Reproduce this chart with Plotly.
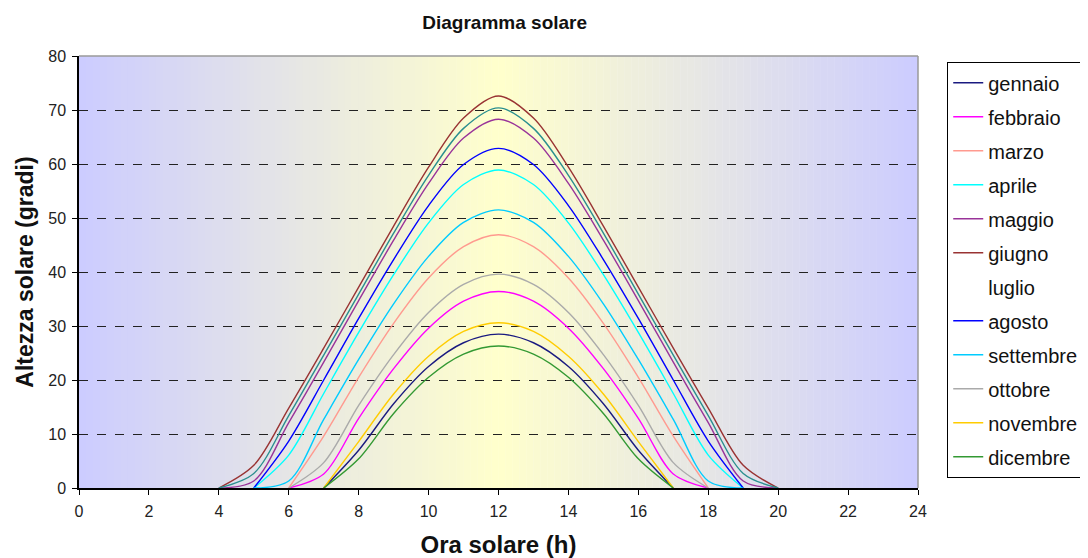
import plotly.graph_objects as go

# ---------------- data ----------------
hours = [4, 5, 6, 7, 8, 9, 10, 11, 12, 13, 14, 15, 16, 17, 18, 19, 20]

months = ["gennaio", "febbraio", "marzo", "aprile", "maggio", "giugno",
          "luglio", "agosto", "settembre", "ottobre", "novembre", "dicembre"]

gennaio   = [None, None, None, 0, 7.0, 15.6, 22.5, 26.9, 28.5, 26.9, 22.5, 15.6, 7.0, 0, None, None, None]
febbraio  = [None, None, 0, 2.6, 12.9, 22.1, 29.6, 34.6, 36.4, 34.6, 29.6, 22.1, 12.9, 2.6, 0, None, None]
marzo     = [None, None, 0, 9.6, 20.5, 30.5, 38.9, 44.7, 46.9, 44.7, 38.9, 30.5, 20.5, 9.6, 0, None, None]
aprile    = [None, 0, 6.1, 17.5, 28.8, 39.5, 49.1, 56.2, 58.9, 56.2, 49.1, 39.5, 28.8, 17.5, 6.1, 0, None]
maggio    = [0, 1.3, 12.1, 23.3, 34.7, 45.9, 56.4, 64.8, 68.3, 64.8, 56.4, 45.9, 34.7, 23.3, 12.1, 1.3, 0]
giugno    = [0, 4.2, 14.8, 25.9, 37.2, 48.5, 59.4, 68.5, 72.6, 68.5, 59.4, 48.5, 37.2, 25.9, 14.8, 4.2, 0]
luglio    = [0, 2.7, 13.4, 24.6, 35.9, 47.2, 57.9, 66.6, 70.4, 66.6, 57.9, 47.2, 35.9, 24.6, 13.4, 2.7, 0]
agosto    = [None, 0, 8.7, 20.0, 31.4, 42.3, 52.3, 59.9, 62.9, 59.9, 52.3, 42.3, 31.4, 20.0, 8.7, 0, None]
settembre = [None, 0, 1.3, 12.7, 23.8, 34.1, 42.9, 49.2, 51.5, 49.2, 42.9, 34.1, 23.8, 12.7, 1.3, 0, None]
ottobre   = [None, None, 0, 4.7, 15.3, 24.7, 32.5, 37.7, 39.6, 37.7, 32.5, 24.7, 15.3, 4.7, 0, None, None]
novembre  = [None, None, None, 0, 8.6, 17.4, 24.4, 29.0, 30.6, 29.0, 24.4, 17.4, 8.6, 0, None, None, None]
dicembre  = [None, None, None, 0, 5.4, 13.8, 20.5, 24.8, 26.3, 24.8, 20.5, 13.8, 5.4, 0, None, None, None]

series = [gennaio, febbraio, marzo, aprile, maggio, giugno,
          luglio, agosto, settembre, ottobre, novembre, dicembre]

colors = ["#1a1a80", "#ff00ff", "#ff9a8f", "#00ffff", "#993399", "#993333",
          "#2a8f8f", "#0000ff", "#00ccff", "#aaaaaa", "#ffcc00", "#339933"]

x_ticks = list(range(0, 25, 2))
y_ticks = list(range(0, 81, 10))

FONT = "Arial, Liberation Sans, sans-serif"

# ---------------- figure ----------------
fig = go.Figure()

for i, (name, ys, col) in enumerate(zip(months, series, colors)):
    if name == "luglio":
        fig.add_trace(go.Scatter(x=hours, y=ys, mode="lines", name=name,
                                 line=dict(color=col, width=1.4, shape="spline", smoothing=0.9),
                                 showlegend=False, hoverinfo="x+y+name"))
        # legend entry shown without a swatch, as in the reference
        fig.add_trace(go.Scatter(x=[None], y=[None], mode="lines", name=name,
                                 line=dict(color="rgba(0,0,0,0)", width=1.4),
                                 legendgroup=name, legendrank=i + 1))
    else:
        fig.add_trace(go.Scatter(x=hours, y=ys, mode="lines", name=name,
                                 line=dict(color=col, width=1.4, shape="spline", smoothing=0.9),
                                 legendgroup=name, legendrank=i + 1))

# background horizontal gradient (lavender at edges, pale yellow at noon)
lav = (204, 204, 255)
yel = (255, 255, 204)
N = 120
shapes = []
for k in range(N):
    x0 = 24 * k / N
    x1 = 24 * (k + 1) / N
    xc = (x0 + x1) / 2
    t = 1 - abs(xc - 12) / 12
    c = tuple(round(lav[j] + (yel[j] - lav[j]) * t) for j in range(3))
    shapes.append(dict(type="rect", xref="x", yref="y", x0=x0, x1=x1 + 0.01, y0=0, y1=80,
                       fillcolor="rgb(%d,%d,%d)" % c, line=dict(width=0), layer="below"))
# gray frame on top and right of the plot area
shapes.append(dict(type="line", xref="paper", yref="paper", x0=0, x1=1, y0=1, y1=1,
                   line=dict(color="#9a9a9a", width=1.5), layer="above"))
shapes.append(dict(type="line", xref="paper", yref="paper", x0=1, x1=1, y0=0, y1=1,
                   line=dict(color="#9a9a9a", width=1.5), layer="above"))

fig.update_layout(
    width=1088, height=558,
    margin=dict(l=71, r=178, t=48, b=78, autoexpand=False),
    paper_bgcolor="white",
    plot_bgcolor="white",
    shapes=shapes,
    font=dict(family=FONT, color="#111"),
    title=dict(text="<b>Diagramma solare</b>", x=0.4565, xanchor="center",
               y=0.975, yanchor="middle", font=dict(size=19, family=FONT, color="#111")),
    xaxis=dict(range=[0, 24], tickvals=x_ticks, ticks="outside", ticklen=5,
               tickcolor="#000", showline=True, linecolor="#000", linewidth=1.5,
               showgrid=False, zeroline=False, automargin=False, ticklabelstandoff=3,
               tickfont=dict(size=16, family=FONT, color="#222"),
               title=dict(text="<b>Ora solare (h)</b>", font=dict(size=24, family=FONT, color="#111"),
                          standoff=17)),
    yaxis=dict(range=[0, 80], tickvals=y_ticks, ticks="outside", ticklen=5,
               tickcolor="#000", showline=True, linecolor="#000", linewidth=1.5,
               showgrid=True, gridcolor="#222", griddash="dash", gridwidth=1.2,
               zeroline=False, automargin=False, ticklabelstandoff=3,
               tickfont=dict(size=16, family=FONT, color="#222"),
               title=dict(text="<b>Altezza solare (gradi)</b>", font=dict(size=23, family=FONT, color="#111"),
                          standoff=8)),
    legend=dict(x=1.0346, y=0.986, xanchor="left", yanchor="top",
                bordercolor="#000", borderwidth=1.2, bgcolor="white",
                font=dict(size=20, family=FONT, color="#111"),
                traceorder="grouped", tracegroupgap=5, itemwidth=30),
    hovermode="closest",
)

fig.write_html("out.html")
